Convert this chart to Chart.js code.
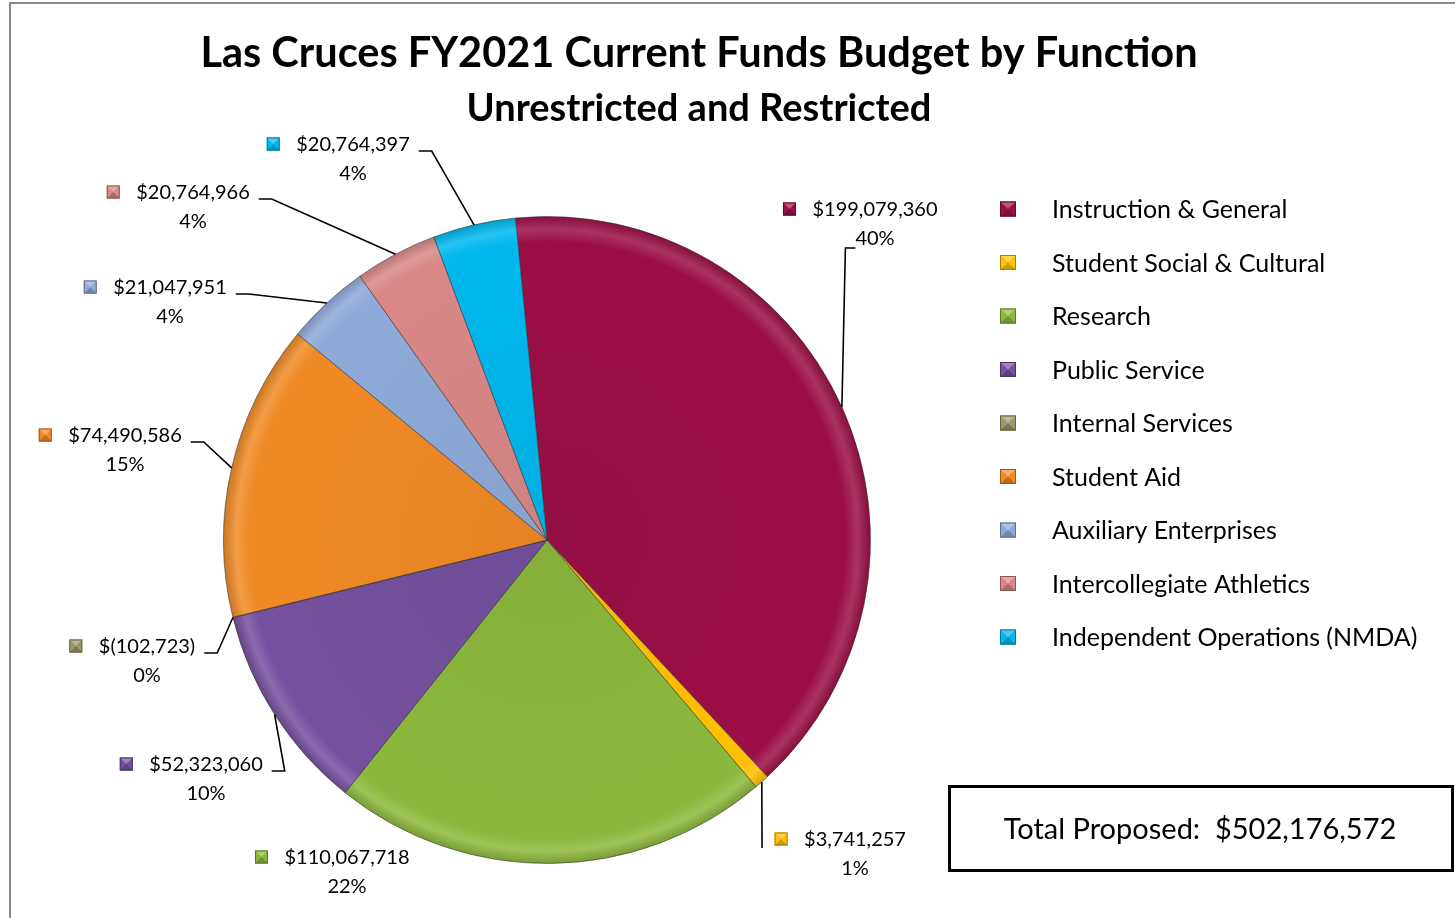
<!DOCTYPE html>
<html><head><meta charset="utf-8">
<script src="https://cdn.jsdelivr.net/npm/chart.js@4.4.1/dist/chart.umd.min.js"></script>
<style>html,body{margin:0;padding:0;background:#fff;overflow:hidden}canvas{display:block}</style>
</head><body><canvas id="c" width="1455" height="918"></canvas>
<script>
// ---- data ----
const categories = ['Instruction & General','Student Social & Cultural','Research','Public Service','Internal Services','Student Aid','Auxiliary Enterprises','Intercollegiate Athletics','Independent Operations (NMDA)'];
const values = [199079360, 3741257, 110067718, 52323060, -102723, 74490586, 21047951, 20764966, 20764397];
const totalProposed = 502176572;
const titleText = 'Las Cruces FY2021 Current Funds Budget by Function';
const subtitleText = 'Unrestricted and Restricted';

// ---- style ----
const colors = ['#9b0f46','#ffc000','#8cb83c','#74509e','#9c9868','#f08a26','#8eaad8','#d98886','#00b8ee'];
const FONT = 'Lato, "Open Sans", sans-serif';
// label placement (value text center) and leader style
const labelLayout = [
  {x:875,y:209,leader:'pctLeft'},
  {x:855,y:839,leader:'markerLeft'},
  {x:347,y:857,leader:'none'},
  {x:206,y:764,leader:'right'},
  {x:147,y:646,leader:'right'},
  {x:125,y:435,leader:'right'},
  {x:170,y:287,leader:'right'},
  {x:193,y:192,leader:'right'},
  {x:353,y:144,leader:'right'}
];

function fmtMoney(v){
  const s = Math.abs(v).toLocaleString('en-US');
  return v < 0 ? '$(' + s + ')' : '$' + s;
}
function shade(hex, f){
  const n=parseInt(hex.slice(1),16);let r=n>>16,g=(n>>8)&255,b=n&255;
  if(f>=0){r+= (255-r)*f; g+=(255-g)*f; b+=(255-b)*f;} else {r*=1+f; g*=1+f; b*=1+f;}
  return `rgb(${Math.round(r)},${Math.round(g)},${Math.round(b)})`;
}
function drawMarker(ctx, cx, cy, w, h, col){
  const x=cx-w/2,y=cy-h/2;
  ctx.fillStyle=col; ctx.fillRect(x,y,w,h);
  ctx.fillStyle=shade(col,0.3);
  ctx.beginPath(); ctx.moveTo(x,y); ctx.lineTo(x+w,y); ctx.lineTo(cx,cy); ctx.closePath(); ctx.fill();
  ctx.fillStyle=shade(col,-0.2);
  ctx.beginPath(); ctx.moveTo(x,y+h); ctx.lineTo(x+w,y+h); ctx.lineTo(cx,cy); ctx.closePath(); ctx.fill();
  ctx.strokeStyle=shade(col,-0.35); ctx.lineWidth=1; ctx.strokeRect(x+0.5,y+0.5,w-1,h-1);
}

const decorPlugin = {
  id:'decor',
  beforeDraw(chart){
    const ctx=chart.ctx; ctx.save();
    ctx.fillStyle='#fff'; ctx.fillRect(0,0,chart.width,chart.height);
    ctx.strokeStyle='#8a8a8a'; ctx.lineWidth=2;
    ctx.strokeRect(10,3,chart.width+20,chart.height+20);
    ctx.restore();
  },
  afterDatasetsDraw(chart){
    const ctx=chart.ctx; const meta=chart.getDatasetMeta(0);
    const total=meta.total;
    ctx.save();
    ctx.font='20px '+FONT; ctx.textBaseline='middle';
    meta.data.forEach((arc,i)=>{
      const L=labelLayout[i];
      const p=arc.getProps(['x','y','startAngle','endAngle','outerRadius'],true);
      const mid=(p.startAngle+p.endAngle)/2;
      const ax=p.x+Math.cos(mid)*p.outerRadius, ay=p.y+Math.sin(mid)*p.outerRadius;
      const valText=fmtMoney(values[i]);
      const pctText=Math.round(Math.abs(values[i])/total*100)+'%';
      const tw=ctx.measureText(valText).width;
      const pw=ctx.measureText(pctText).width;
      const textLeft=L.x-tw/2, textRight=L.x+tw/2;
      const mx=textLeft-23;
      drawMarker(ctx,mx,L.y,13,13,colors[i]);
      ctx.fillStyle='#000'; ctx.textAlign='center';
      ctx.fillText(valText,L.x,L.y+1);
      ctx.fillText(pctText,L.x,L.y+30);
      let pts=null;
      if(L.leader==='right'){ pts=[[textRight+9,L.y+7],[textRight+22,L.y+7],[ax,ay]]; }
      else if(L.leader==='pctLeft'){ const pl=L.x-pw/2; pts=[[pl,L.y+39],[pl-10,L.y+39],[ax,ay]]; }
      else if(L.leader==='markerLeft'){ pts=[[mx-19,L.y+9],[ax,ay]]; }
      if(pts){
        ctx.strokeStyle='#000'; ctx.lineWidth=1.6; ctx.beginPath();
        ctx.moveTo(pts[0][0],pts[0][1]); for(let k=1;k<pts.length;k++) ctx.lineTo(pts[k][0],pts[k][1]);
        ctx.stroke();
      }
    });
    ctx.restore();
  },
  afterDraw(chart){
    const ctx=chart.ctx; ctx.save();
    ctx.fillStyle='#000'; ctx.textAlign='center'; ctx.textBaseline='middle';
    ctx.font='bold 41.5px '+FONT; ctx.fillText(titleText,699,54);
    ctx.font='bold 38px '+FONT; ctx.fillText(subtitleText,699,109);
    // legend
    ctx.font='25px '+FONT; ctx.textAlign='left';
    categories.forEach((c,i)=>{
      const y=209+i*53.5;
      drawMarker(ctx,1008,y,16,15,colors[i]);
      ctx.fillStyle='#000'; ctx.fillText(c,1052,y+1);
    });
    // total box
    ctx.strokeStyle='#000'; ctx.lineWidth=3;
    ctx.strokeRect(949.5,786.5,503,84);
    ctx.font='29px '+FONT; ctx.textAlign='center'; ctx.fillStyle='#000';
    ctx.fillText('Total Proposed:  '+fmtMoney(totalProposed),1200,830);
    ctx.restore();
  }
};

new Chart(document.getElementById('c'),{
  type:'pie',
  data:{labels:categories,datasets:[{
    data:values,
    backgroundColor:(c)=>{
      const col=colors[c.dataIndex];
      const ch=c.chart;
      if(!ch.chartArea) return col;
      const cx=(ch.chartArea.left+ch.chartArea.right)/2, cy=(ch.chartArea.top+ch.chartArea.bottom)/2;
      const r=Math.min(ch.chartArea.width,ch.chartArea.height)/2;
      const g=ch.ctx.createRadialGradient(cx,cy,0,cx,cy,r);
      g.addColorStop(0,shade(col,-0.05)); g.addColorStop(0.92,col);
      g.addColorStop(0.96,shade(col,0.15)); g.addColorStop(1,shade(col,-0.15));
      return g;
    },
    borderColor:'rgba(50,50,50,0.55)',borderWidth:1
  }]},
  options:{
    responsive:false,animation:false,devicePixelRatio:1,
    rotation:-5.6,
    layout:{padding:{left:223,right:584,top:216,bottom:54}},
    plugins:{legend:{display:false},title:{display:false},tooltip:{enabled:false}}
  },
  plugins:[decorPlugin]
});
</script></body></html>
